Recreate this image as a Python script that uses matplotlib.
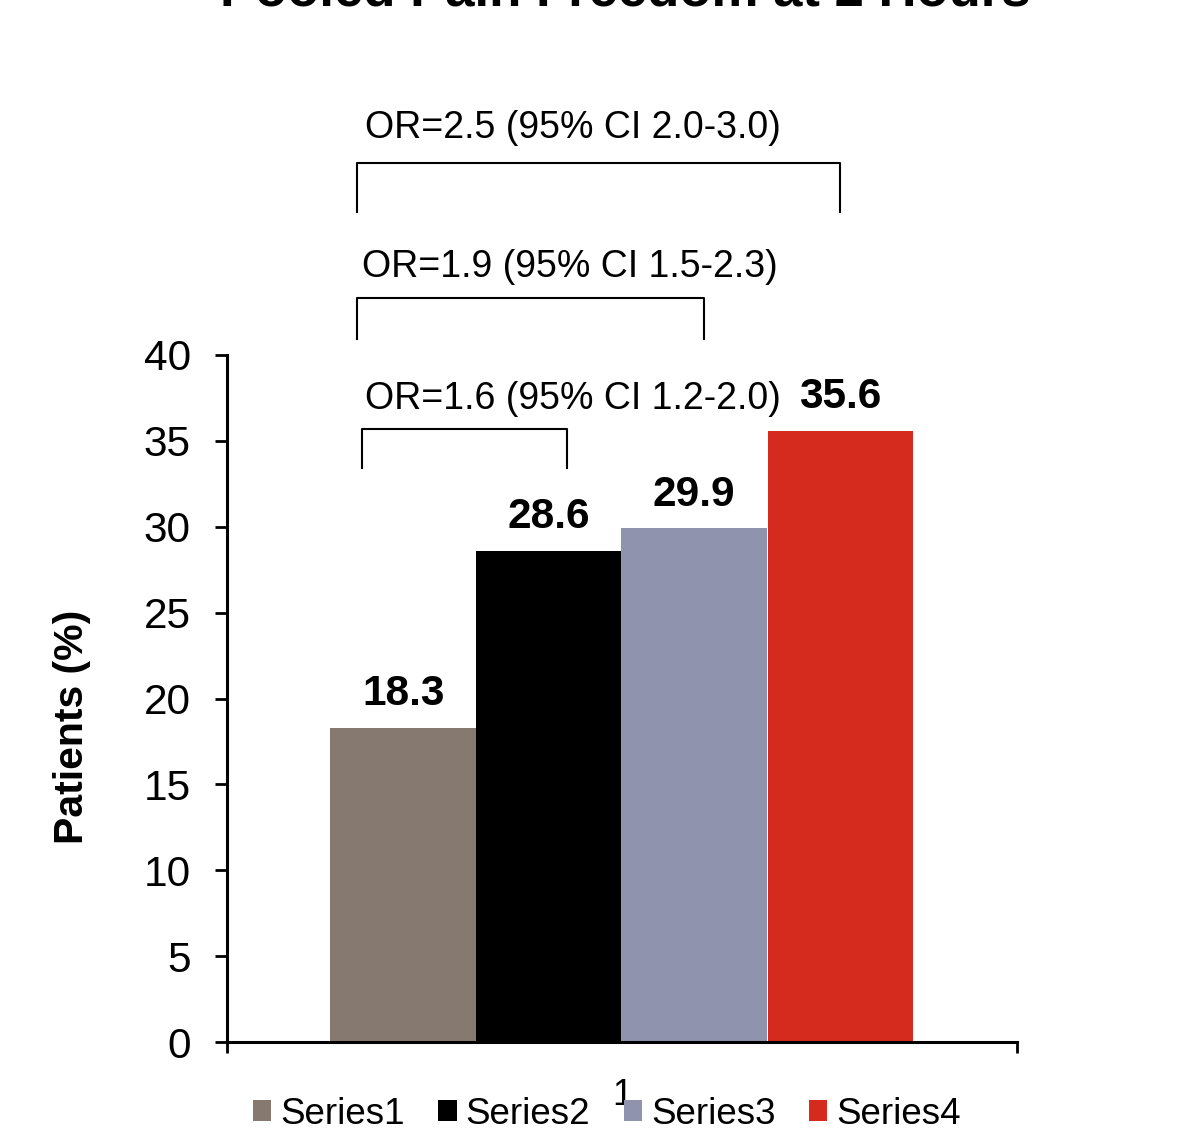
import matplotlib
matplotlib.use("Agg")
import matplotlib.pyplot as plt
from matplotlib.patches import Patch

plt.rcParams['font.family'] = ['Liberation Sans', 'DejaVu Sans']

series = ["Series1", "Series2", "Series3", "Series4"]
values = [18.3, 28.6, 29.9, 35.6]
colors = ["#857970", "#000000", "#8F93AE", "#D52B1E"]
category = ["1"]
yticks = [0, 5, 10, 15, 20, 25, 30, 35, 40]
or_texts = ["OR=1.6 (95% CI 1.2-2.0)", "OR=1.9 (95% CI 1.5-2.3)", "OR=2.5 (95% CI 2.0-3.0)"]
title = "Pooled Pain Freedom at 2 Hours"
ylabel = "Patients (%)"

W, H = 1187, 1133
fig = plt.figure(figsize=(W / 100, H / 100), dpi=100)
ax = fig.add_axes([227 / W, 1 - 1042 / H, (1017 - 227) / W, (1042 - 355) / H])

bw = 0.1846
offsets = [-0.277, -0.0925, 0.0915, 0.2765]
for s, v, c, o in zip(series, values, colors, offsets):
    ax.bar(o, v, width=bw, color=c, label=s, zorder=2)
    ax.annotate(f"{v:.1f}", (o, v), xytext=(0, 24), textcoords="offset points",
                ha="center", va="center", fontsize=30.5, fontweight="bold")

ax.set_xlim(-0.5, 0.5)
ax.set_ylim(0, 40)
ax.set_yticks(yticks)
ax.set_yticklabels([str(t) for t in yticks])
ax.set_xticks([0])
ax.set_xticklabels(category)
ax.set_xticks([-0.5, 0.5], minor=True)
ax.tick_params(axis="x", which="major", length=0, pad=26, labelsize=26)
ax.tick_params(axis="x", which="minor", length=8, width=2, direction="out")
ax.tick_params(axis="y", length=9, width=2, direction="out", pad=17, labelsize=30.5)
for sp in ["top", "right"]:
    ax.spines[sp].set_visible(False)
for sp in ["left", "bottom"]:
    ax.spines[sp].set_linewidth(2.2)

ax.set_ylabel(ylabel, fontsize=29.5, fontweight="bold", labelpad=0)
ax.yaxis.set_label_coords((91 - 227) / (1017 - 227), (1042 - 727) / (1042 - 355))

# significance brackets (data coordinates, outside the axes)
brackets = [
    (-0.329, -0.0696, 33.42, 35.69, 37.45),
    (-0.335, 0.104, 40.93, 43.32, 45.15),
    (-0.335, 0.276, 48.33, 51.18, 53.2),
]
text_x = [-0.0625, -0.0655, -0.0625]
for (x0, x1, yb, yt, ytx), txt, tx in zip(brackets, or_texts, text_x):
    ax.plot([x0, x0, x1, x1], [yb, yt, yt, yb], color="black", lw=1.5,
            clip_on=False, zorder=3)
    ax.text(tx, ytx, txt, ha="center", va="center", fontsize=27, clip_on=False)

fig.text(625 / W, 1 - 5 / H, title, ha="center", va="baseline",
         fontsize=38, fontweight="bold")

handles = [Patch(facecolor=c, edgecolor="none") for c in colors]
fig.legend(handles, series, loc="center", bbox_to_anchor=(607 / W, 1 - 1114 / H),
           ncol=4, frameon=False, fontsize=26.5, handlelength=0.5, handleheight=0.5,
           handletextpad=0.25, columnspacing=0.9, borderpad=0, borderaxespad=0)

fig.savefig("out.png", dpi=100)
